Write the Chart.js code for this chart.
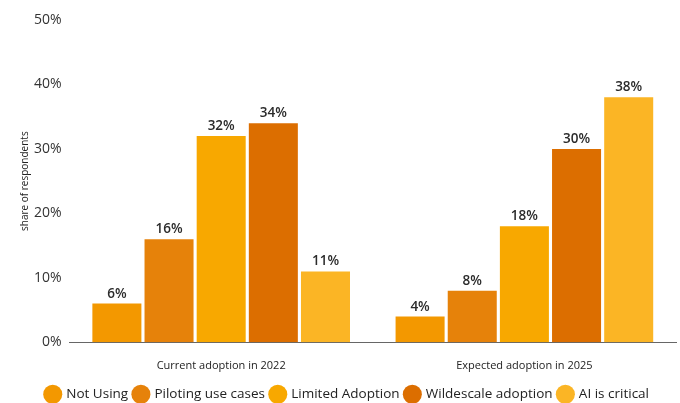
<!DOCTYPE html>
<html>
<head>
<meta charset="utf-8">
<script src="https://cdn.jsdelivr.net/npm/chart.js@4/dist/chart.umd.min.js"></script>
<style>
html,body{margin:0;padding:0;background:#fff;}
#wrap{width:680px;height:403px;position:relative;}
</style>
</head>
<body>
<div id="wrap"><canvas id="c"></canvas></div>
<script>
const categories = ["Current adoption in 2022", "Expected adoption in 2025"];
const seriesNames = ["Not Using", "Piloting use cases", "Limited Adoption", "Wildescale adoption", "AI is critical"];
const notUsing = [6, 4];
const piloting = [16, 8];
const limited = [32, 18];
const wildescale = [34, 30];
const aiCritical = [11, 38];
const yTicks = [0, 10, 20, 30, 40, 50];
const colors = ["#F39800", "#E6820A", "#F8A800", "#DC6E00", "#FBB525"];

const seriesValues = [notUsing, piloting, limited, wildescale, aiCritical];
const FONT = "'Open Sans', sans-serif";

const labelPlugin = {
  id: 'barLabels',
  afterDatasetsDraw(chart) {
    const ctx = chart.ctx;
    ctx.save();
    ctx.font = "600 13.5px " + FONT;
    ctx.fillStyle = "#2b2b2b";
    ctx.textAlign = "center";
    ctx.textBaseline = "bottom";
    chart.data.datasets.forEach((ds, i) => {
      const meta = chart.getDatasetMeta(i);
      meta.data.forEach((bar, j) => {
        ctx.fillText(ds.data[j] + "%", bar.x, bar.y - 3);
      });
    });
    ctx.restore();
  }
};

new Chart(document.getElementById('c'), {
  type: 'bar',
  data: {
    labels: categories,
    datasets: seriesNames.map((n, i) => ({
      label: n,
      data: seriesValues[i],
      backgroundColor: colors[i],
      borderWidth: 0,
      barPercentage: 0.94,
      categoryPercentage: 0.86
    }))
  },
  options: {
    responsive: true,
    maintainAspectRatio: false,
    animation: false,
    layout: { padding: { top: 20, right: 4, left: 19, bottom: -8 } },
    plugins: {
      legend: {
        position: 'bottom',
        labels: {
          usePointStyle: true,
          pointStyle: 'circle',
          boxWidth: 14,
          boxHeight: 14,
          padding: 6,
          color: '#222',
          font: { family: FONT, size: 13.5, weight: '500' }
        }
      },
      tooltip: { enabled: false }
    },
    scales: {
      x: {
        grid: { display: false },
        border: { display: true, color: '#666', width: 1 },
        ticks: { color: '#222', padding: 9, font: { family: FONT, size: 11 } }
      },
      y: {
        min: 0,
        max: 50,
        afterBuildTicks(axis) { axis.ticks = yTicks.map(v => ({ value: v })); },
        grid: { display: false },
        border: { display: false },
        ticks: {
          color: '#333',
          padding: 0,
          font: { family: FONT, size: 14, weight: '500' },
          callback: v => v + '%'
        },
        title: {
          display: true,
          text: 'share of respondents',
          color: '#222',
          padding: { top: 0, bottom: 3 },
          font: { family: FONT, size: 10 }
        }
      }
    }
  },
  plugins: [labelPlugin]
});
</script>
</body>
</html>
